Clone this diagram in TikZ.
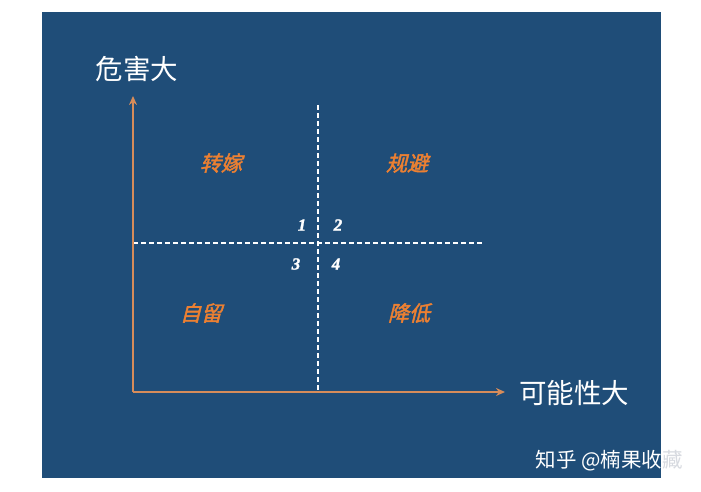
\documentclass[tikz,border=0pt]{standalone}
\usepackage{fontspec}
\newfontfamily\cjk{Noto Sans CJK SC}
\newfontfamily\cjkit[FakeSlant=0.25,FakeBold=2]{Noto Sans CJK SC}
\newfontfamily\numfont[FakeBold=1.5]{Liberation Serif}
\usetikzlibrary{arrows.meta}
\definecolor{boardblue}{RGB}{31,77,120}
\definecolor{axisorange}{RGB}{214,140,90}
\definecolor{zoneorange}{RGB}{236,128,50}
\definecolor{markgray}{RGB}{215,218,224}

\begin{document}
\begin{tikzpicture}[x=1pt,y=-1pt,
  axis/.style={line width=2.5pt, color=axisorange, -{Stealth[length=9pt,width=8pt]}},
  divider/.style={white, line width=1.2pt, dash pattern=on 5pt off 3pt},
  axislabel/.style={text=white, font=\cjk\fontsize{27.5}{27.5}\selectfont},
  zone/.style={text=zoneorange, font=\cjkit\fontsize{21}{21}\selectfont},
  quadno/.style={text=white, font=\numfont\bfseries\itshape\fontsize{17}{17}\selectfont}]

\useasboundingbox (0,0) rectangle (701,492);
\fill[white] (0,0) rectangle (701,492);
\fill[boardblue] (42,12) rectangle (661,478);

% axes and dividers
\coordinate (origin) at (133,392);
\coordinate (ytip) at (133,96);
\coordinate (xtip) at (505,392);
\coordinate (vtop) at (318,105);
\coordinate (vbot) at (318,392);
\coordinate (hleft) at (133,243);
\coordinate (hright) at (483,243);

\draw[divider] (vtop) -- (vbot);
\draw[divider] (hleft) -- (hright);
\draw[axis] (origin) -- (ytip);
\draw[axis] (origin) -- (xtip);

% axis labels
\node[axislabel] (harm) at (137,69) {危害大};
\node[axislabel] (chance) at (574,393) {可能性大};

% quadrant strategies
\node[zone] (transfer) at (221,163) {转嫁};
\node[zone] (avoid) at (407,163) {规避};
\node[zone] (retain) at (201,313) {自留};
\node[zone] (reduce) at (409,313) {降低};

% quadrant numbers
\node[quadno] (q1) at (302,225) {1};
\node[quadno] (q2) at (338,225) {2};
\node[quadno] (q3) at (296,264) {3};
\node[quadno] (q4) at (336,264) {4};

% source mark
\node[text=white, font=\cjk\fontsize{20.5}{20.5}\selectfont] (mark) at (609,461) {知乎 @楠果收\textcolor{markgray}{藏}};

\end{tikzpicture}
\end{document}
